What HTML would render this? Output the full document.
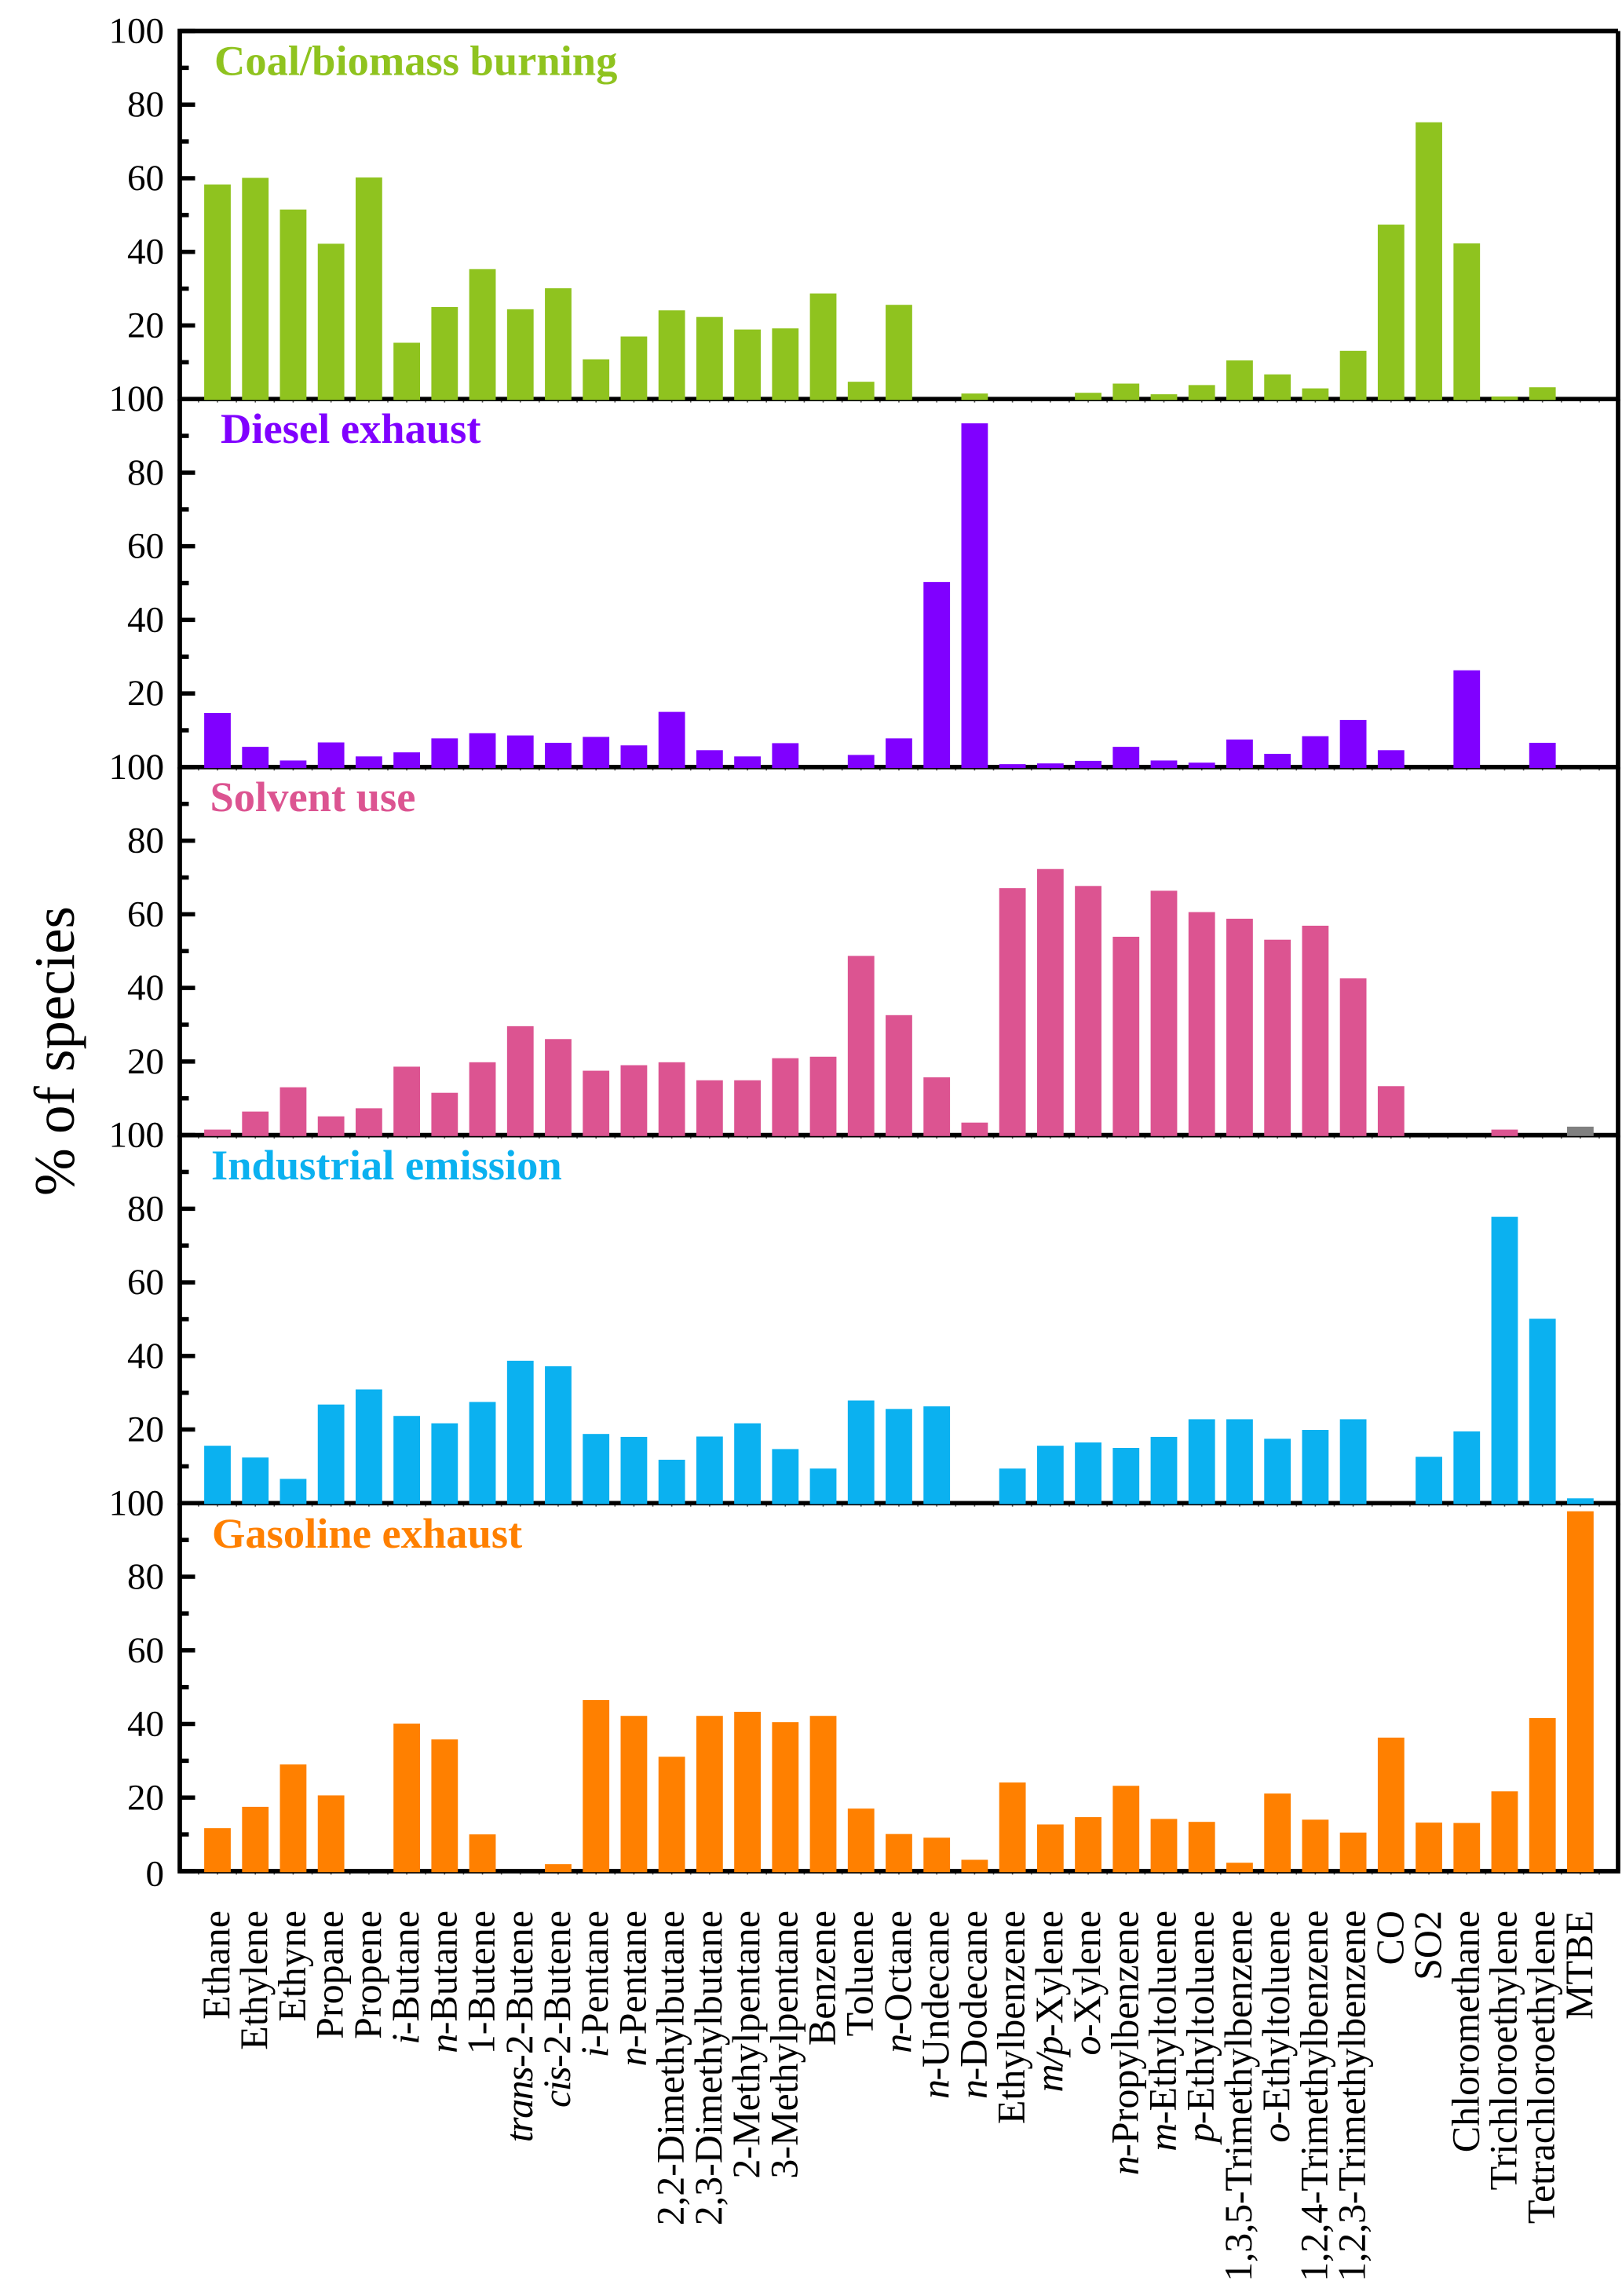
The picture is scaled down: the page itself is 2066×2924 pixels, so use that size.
<!DOCTYPE html>
<html lang="en">
<head>
<meta charset="utf-8">
<title>Source profiles: % of species</title>
<style>
  html, body { margin: 0; padding: 0; background: #fff; }
  svg { display: block; font-family: "Liberation Serif", "Times New Roman", serif; }
</style>
</head>
<body>
<svg id="chart" xmlns="http://www.w3.org/2000/svg" width="2066" height="2924" viewBox="0 0 2066 2924">
  <rect x="0" y="0" width="2066" height="2924" fill="#ffffff"/>
  <g id="panels"></g>
  <g id="xlabels"></g>
  <text transform="translate(94 1523) rotate(-90)" font-size="73" fill="#000">% of species</text>
</svg>
<script>
const categories = ["Ethane","Ethylene","Ethyne","Propane","Propene","i-Butane","n-Butane","1-Butene","trans-2-Butene","cis-2-Butene","i-Pentane","n-Pentane","2,2-Dimethylbutane","2,3-Dimethylbutane","2-Methylpentane","3-Methylpentane","Benzene","Toluene","n-Octane","n-Undecane","n-Dodecane","Ethylbenzene","m/p-Xylene","o-Xylene","n-Propylbenzene","m-Ethyltoluene","p-Ethyltoluene","1,3,5-Trimethylbenzene","o-Ethyltoluene","1,2,4-Trimethylbenzene","1,2,3-Trimethylbenzene","CO","SO2","Chloromethane","Trichloroethylene","Tetrachloroethylene","MTBE"];
const italicPrefixes = ["i","n","trans","cis","m/p","o","m","p"];
const panelTitles = ["Coal/biomass burning","Diesel exhaust","Solvent use","Industrial emission","Gasoline exhaust"];
const panelKeys = ["coal-biomass","diesel","solvent","industrial","gasoline"];
const yTickValues = [0,20,40,60,80,100];
const yMinorValues = [10,30,50,70,90];
const coalBiomass = [58.3,60.1,51.5,42.2,60.2,15.3,25,35.3,24.4,30.1,10.8,17,24.1,22.3,18.9,19.2,28.7,4.7,25.6,0,1.5,0,0,1.7,4.2,1.3,3.8,10.5,6.7,2.9,13.1,47.4,75.2,42.3,0.7,3.2,0];
const dieselExhaust = [14.7,5.5,1.8,6.7,2.9,4,7.8,9.2,8.6,6.6,8.2,5.9,15,4.6,2.9,6.5,0,3.3,7.8,50.3,93.4,0.8,1,1.7,5.5,1.8,1.2,7.5,3.6,8.4,12.8,4.6,0,26.3,0,6.6,0];
const solventUse = [1.5,6.4,13,5.1,7.3,18.6,11.5,19.8,29.6,26.1,17.5,19,19.8,14.9,14.9,20.9,21.3,48.7,32.6,15.7,3.4,67.1,72.3,67.7,53.9,66.4,60.6,58.8,53.1,56.9,42.6,13.3,0,0,1.5,0,2.3];
const industrialEmission = [15.6,12.4,6.6,26.8,30.9,23.7,21.7,27.5,38.7,37.2,18.8,18,11.8,18.1,21.7,14.7,9.4,27.9,25.6,26.3,0,9.4,15.6,16.5,15,18,22.8,22.8,17.5,19.9,22.8,0,12.6,19.5,77.8,50.1,1.3];
const gasolineExhaust = [11.7,17.5,29,20.6,0,40.1,35.8,10,0,1.9,46.5,42.2,31.1,42.2,43.3,40.5,42.2,17,10.1,9.1,3.1,24.1,12.7,14.7,23.2,14.2,13.4,2.3,21.1,14,10.5,36.3,13.2,13.1,21.7,41.6,97.8];
const panelSeries = [coalBiomass,dieselExhaust,solventUse,industrialEmission,gasolineExhaust];

const panelColors = ["#8FC31F","#8000FF","#DC5491","#0BB1F0","#FF8000"];
const svgNS = "http://www.w3.org/2000/svg";
const plotTop = 39.5, panelStep = 468.7, axisLeft = 229, axisRight = 2061;
const firstCenter = 277, catStep = 48.22, barWidth = 33.8;
const titleX = [273,281,267.5,269,270], titleBaseline = [95.5,564,1033,1502,1971];

function xScale(i) { return firstCenter + i * catStep; }
function yScale(panel, v) { return plotTop + panelStep * panel + panelStep * (1 - v / 100); }
function make(tag, attrs, parent) {
  const el = document.createElementNS(svgNS, tag);
  for (const k in attrs) el.setAttribute(k, attrs[k]);
  parent.appendChild(el);
  return el;
}

const panelsGroup = document.getElementById("panels");
panelSeries.forEach(function (series, p) {
  const g = make("g", {}, panelsGroup);
  
  

  const y100 = yScale(p, 100), y0 = yScale(p, 0);

  // small x ticks peeking out under the baseline
  for (let h = -1; h <= categories.length * 2 - 1; h++) {
    const tx = xScale(h / 2);
    const xt = make("line", { x1: tx, x2: tx, y1: y0, y2: y0 + 4.4, stroke: "#555", "stroke-width": 1.6 }, g);
    
    
  }

  // axes
  const frame = make("path", {
    d: "M" + axisLeft + " " + y0 + "V" + y100 + (p === 0 ? "H" + axisRight : "") + "M" + axisRight + " " + y100 + "V" + y0 + "M" + (axisLeft - 2.8) + " " + y0 + "H" + (axisRight + 2.8),
    fill: "none", stroke: "#000", "stroke-width": 5.7
  }, g);
  
  

  // ticks
  yTickValues.forEach(function (v) {
    const ty = yScale(p, v);
    const t = make("line", { x1: axisLeft, x2: axisLeft + 19.5, y1: ty, y2: ty, stroke: "#000", "stroke-width": 5.5 }, g);
    
    
    const extra = (p === 4 && v === 0) ? 3.5 : 0;
    const lab = make("text", { x: 209, y: ty + 15 + extra, "text-anchor": "end", "font-size": 47, fill: "#000" }, g);
    lab.textContent = String(v);
    
    
  });
  yMinorValues.forEach(function (v) {
    const ty = yScale(p, v);
    const t = make("line", { x1: axisLeft, x2: axisLeft + 11.5, y1: ty, y2: ty, stroke: "#000", "stroke-width": 5.5 }, g);
    
    
  });

  // bars
  series.forEach(function (v, i) {
    if (v <= 0) return;
    const top = yScale(p, v);
    const isMtbeSolvent = (p === 2 && i === categories.length - 1);
    const b = make("rect", {
      x: xScale(i) - barWidth / 2, y: top, width: barWidth, height: y0 + 1.2 - top,
      fill: isMtbeSolvent ? "#808080" : panelColors[p]
    }, g);
    
    
  });

  // title
  const title = make("text", { x: titleX[p], y: titleBaseline[p], "font-size": 54.5, "font-weight": "bold", fill: panelColors[p] }, g);
  title.textContent = panelTitles[p];
  
  
});

const labelsGroup = document.getElementById("xlabels");
categories.forEach(function (name, i) {
  const t = make("text", {
    transform: "translate(" + (xScale(i) + 15) + " 2433) rotate(-90)",
    "text-anchor": "end", "font-size": 50, fill: "#000"
  }, labelsGroup);
  
  
  if (name.charAt(0) === "1" && name.charAt(1) === ",") t.setAttribute("letter-spacing", "-0.27");
  const dash = name.indexOf("-");
  const prefix = dash > 0 ? name.slice(0, dash) : "";
  if (italicPrefixes.indexOf(prefix) >= 0) {
    const it = make("tspan", { "font-style": "italic", "letter-spacing": "-1.5" }, t);
    it.textContent = prefix;
    const rest = make("tspan", {}, t);
    rest.textContent = name.slice(dash);
  } else {
    t.textContent = name;
  }
});
</script>
</body>
</html>
